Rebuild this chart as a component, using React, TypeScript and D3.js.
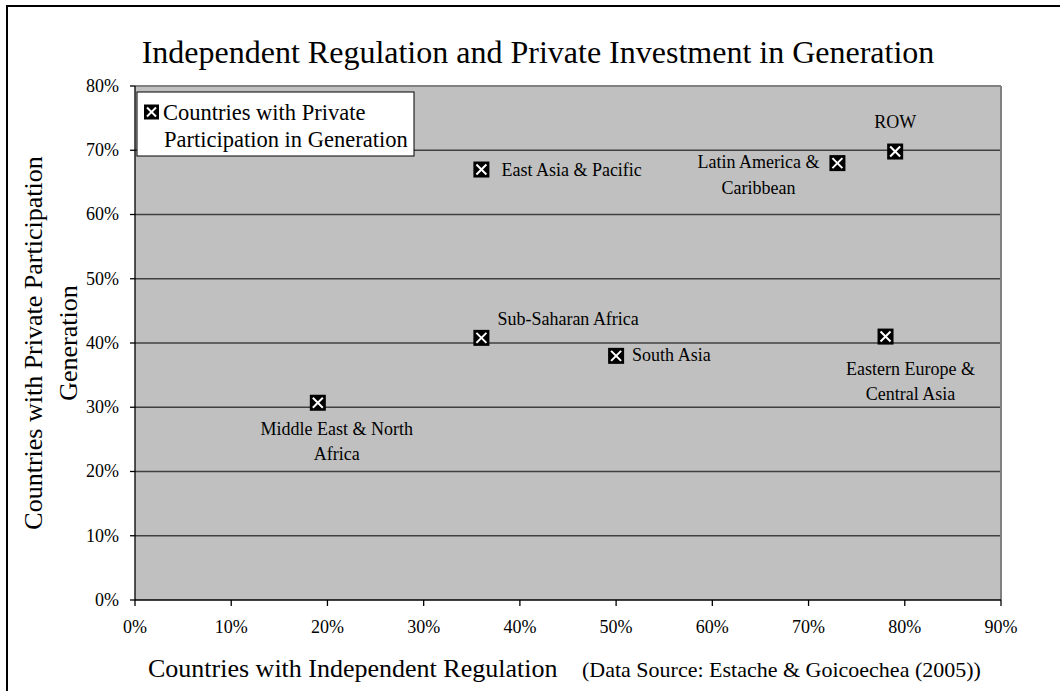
import React from "react";
import * as d3 from "d3";

const regions = [
  "Middle East & North Africa",
  "Sub-Saharan Africa",
  "South Asia",
  "East Asia & Pacific",
  "Latin America & Caribbean",
  "ROW",
  "Eastern Europe & Central Asia",
];
const independentRegulation = [0.19, 0.36, 0.5, 0.36, 0.73, 0.79, 0.78];
const privateParticipation = [0.307, 0.408, 0.38, 0.67, 0.68, 0.698, 0.41];
const labelLines = [
  ["Middle East & North", "Africa"],
  ["Sub-Saharan Africa"],
  ["South Asia"],
  ["East Asia & Pacific"],
  ["Latin America &", "Caribbean"],
  ["ROW"],
  ["Eastern Europe &", "Central Asia"],
];
const xTicks = [0, 0.1, 0.2, 0.3, 0.4, 0.5, 0.6, 0.7, 0.8, 0.9];
const yTicks = [0, 0.1, 0.2, 0.3, 0.4, 0.5, 0.6, 0.7, 0.8];

const W = 1060;
const H = 691;
const margin = { left: 135, right: 1001, top: 86, bottom: 600 };
const FONT = "'Liberation Serif', 'Times New Roman', serif";

const labelPlace: [number, number, string][] = [
  [19, 32, "middle"],
  [16, -13, "start"],
  [16, 5, "start"],
  [20, 6, "start"],
  [-79, 5, "middle"],
  [0, -24, "middle"],
  [25, 38, "middle"],
];

function Marker({ x, y, s }: { x: number; y: number; s: number }) {
  const h = s / 2;
  const k = h - 3;
  return (
    <g>
      <rect x={x - h} y={y - h} width={s} height={s} fill="#000" />
      <line x1={x - k} y1={y - k} x2={x + k} y2={y + k} stroke="#fff" strokeWidth={2} />
      <line x1={x - k} y1={y + k} x2={x + k} y2={y - k} stroke="#fff" strokeWidth={2} />
    </g>
  );
}

export default function App() {
  const x = d3.scaleLinear().domain([0, 0.9]).range([margin.left, margin.right]);
  const y = d3.scaleLinear().domain([0, 0.8]).range([margin.bottom, margin.top]);
  const pct = d3.format(".0%");

  return (
    <svg
      width={W}
      height={H}
      style={{ position: "absolute", left: 0, top: 0, background: "#fff" }}
      fontFamily={FONT}
    >
      <rect x={7} y={6} width={1100} height={800} fill="#fff" stroke="#000" strokeWidth={2} />
      <text x={538} y={63} fontSize={32} textAnchor="middle" fill="#000">
        Independent Regulation and Private Investment in Generation
      </text>

      <rect
        x={margin.left}
        y={margin.top}
        width={margin.right - margin.left}
        height={margin.bottom - margin.top}
        fill="#C0C0C0"
      />
      {yTicks.slice(1, -1).map((t) => (
        <line
          key={"g" + t}
          x1={margin.left}
          x2={margin.right}
          y1={y(t)}
          y2={y(t)}
          stroke="#404040"
          strokeWidth={1.3}
        />
      ))}
      <line x1={margin.left} x2={margin.right} y1={y(0.8)} y2={y(0.8)} stroke="#808080" strokeWidth={2} />
      <line x1={margin.right} x2={margin.right} y1={margin.top} y2={margin.bottom} stroke="#808080" strokeWidth={2} />

      <line x1={margin.left} x2={margin.left} y1={margin.top} y2={margin.bottom} stroke="#000" strokeWidth={1.3} />
      <line x1={margin.left} x2={margin.right} y1={margin.bottom} y2={margin.bottom} stroke="#000" strokeWidth={1.3} />
      {yTicks.map((t) => (
        <g key={"y" + t}>
          <line x1={margin.left - 5} x2={margin.left} y1={y(t)} y2={y(t)} stroke="#000" strokeWidth={1.3} />
          <text x={119} y={y(t)} dy="0.33em" fontSize={18} textAnchor="end" fill="#000">
            {pct(t)}
          </text>
        </g>
      ))}
      {xTicks.map((t) => (
        <g key={"x" + t}>
          <line x1={x(t)} x2={x(t)} y1={margin.bottom} y2={margin.bottom + 6} stroke="#000" strokeWidth={1.3} />
          <text x={x(t)} y={633} fontSize={18} textAnchor="middle" fill="#000">
            {pct(t)}
          </text>
        </g>
      ))}

      {regions.map((r, i) => {
        const cx = x(independentRegulation[i]);
        const cy = y(privateParticipation[i]);
        const [dx, dy, anchor] = labelPlace[i];
        return (
          <g key={r}>
            <Marker x={cx} y={cy} s={16} />
            <text x={cx + dx} y={cy + dy} fontSize={18} textAnchor={anchor as any} fill="#000">
              {labelLines[i].map((l, j) => (
                <tspan key={j} x={cx + dx} dy={j === 0 ? 0 : 25.5}>
                  {l}
                </tspan>
              ))}
            </text>
          </g>
        );
      })}

      <rect x={137} y={92} width={277} height={64} fill="#fff" stroke="#000" strokeWidth={1} />
      <Marker x={151.5} y={112} s={15} />
      <text x={163} y={119.5} fontSize={22.5} fill="#000">
        Countries with Private
      </text>
      <text x={164} y={147} fontSize={22.5} fill="#000">
        Participation in Generation
      </text>

      <text x={148} y={677} fontSize={26} fill="#000">
        Countries with Independent Regulation
      </text>
      <text x={582} y={677} fontSize={22} fill="#000">
        (Data Source: Estache &amp; Goicoechea (2005))
      </text>
      <g transform={`translate(42, ${(margin.top + margin.bottom) / 2}) rotate(-90)`}>
        <text x={0} y={0} fontSize={26} textAnchor="middle" fill="#000">
          Countries with Private Participation
        </text>
      </g>
      <g transform={`translate(77, ${(margin.top + margin.bottom) / 2}) rotate(-90)`}>
        <text x={0} y={0} fontSize={26} textAnchor="middle" fill="#000">
          Generation
        </text>
      </g>
    </svg>
  );
}
